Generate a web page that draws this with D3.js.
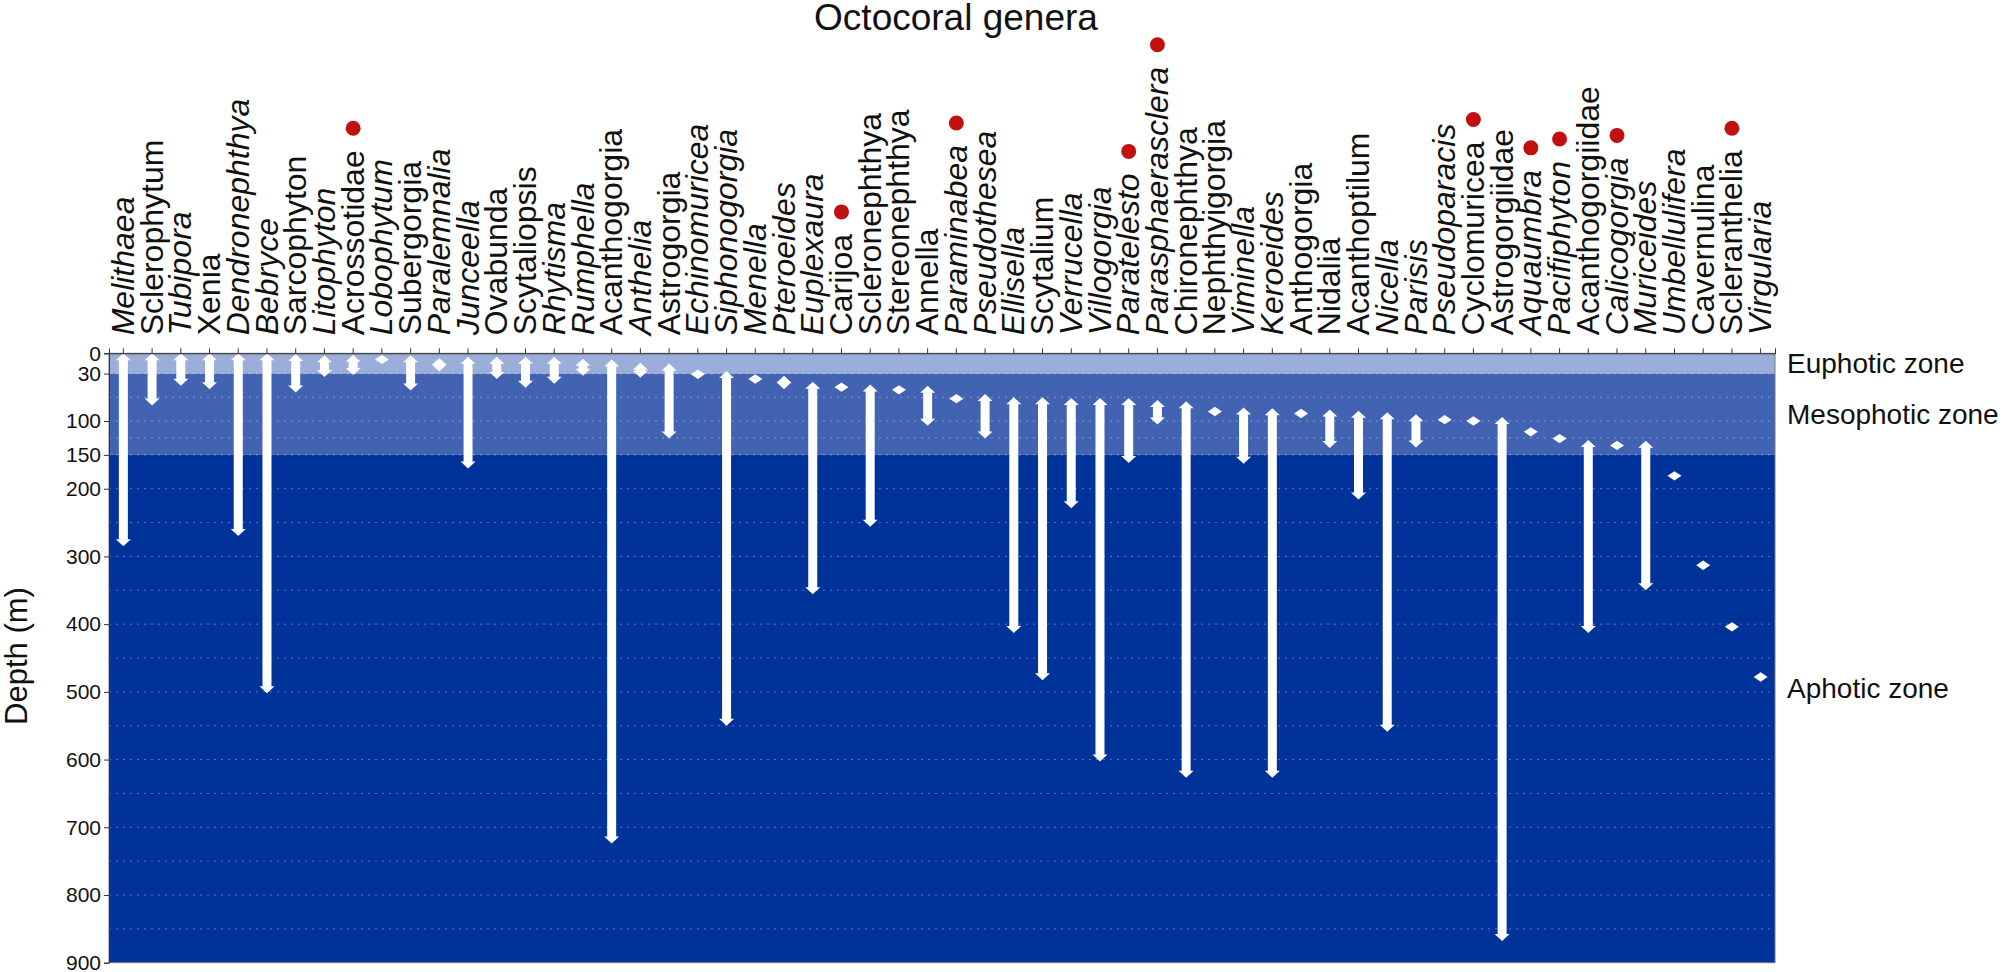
<!DOCTYPE html>
<html>
<head>
<meta charset="utf-8">
<script src="https://cdn.jsdelivr.net/npm/d3@7"></script>
<style>
  body { margin: 0; background: #ffffff; }
  text { font-family: "Liberation Sans", Arial, Helvetica, sans-serif; }
</style>
</head>
<body>
<svg id="chart"></svg>
<script>
  // Octocoral genera, depth ranges (m)
  const genera = [
    'Melithaea', 'Sclerophytum', 'Tubipora', 'Xenia', 'Dendronephthya', 'Bebryce',
    'Sarcophyton', 'Litophyton', 'Acrossotidae', 'Lobophytum', 'Subergorgia', 'Paralemnalia',
    'Junceella', 'Ovabunda', 'Scytaliopsis', 'Rhytisma', 'Rumphella', 'Acanthogorgia',
    'Anthelia', 'Astrogorgia', 'Echinomuricea', 'Siphonogorgia', 'Menella', 'Pteroeides',
    'Euplexaura', 'Carijoa', 'Scleronephthya', 'Stereonephthya', 'Annella', 'Paraminabea',
    'Pseudothesea', 'Ellisella', 'Scytalium', 'Verrucella', 'Villogorgia', 'Paratelesto',
    'Parasphaerasclera', 'Chironephthya', 'Nephthyigorgia', 'Viminella', 'Keroeides', 'Anthogorgia',
    'Nidalia', 'Acanthoptilum', 'Nicella', 'Parisis', 'Pseudoparacis', 'Cyclomuricea',
    'Astrogorgiidae', 'Aquaumbra', 'Pacifiphyton', 'Acanthogorgiidae', 'Calicogorgia', 'Muriceides',
    'Umbellulifera', 'Cavernulina', 'Scleranthelia', 'Virgularia'
  ];

  const minDepth = [
    0, 0, 0, 0, 0, 0,
    1, 3, 2, 9, 3, 7,
    5, 5, 5, 5, 8, 9,
    14, 15, 31, 26, 38, 33,
    42, 50, 46, 54, 48, 67,
    60, 65, 65, 66, 66, 66,
    69, 71, 86, 80, 81, 89,
    83, 85, 87, 90, 98, 100,
    94, 116, 126, 128, 136, 129,
    181, 313, 404, 478
  ];

  const maxDepth = [
    285, 77, 48, 53, 270, 502,
    58, 35, 32, 9, 55, 27,
    170, 38, 51, 45, 33, 724,
    36, 126, 31, 550, 38, 53,
    356, 50, 256, 54, 107, 67,
    126, 413, 483, 229, 603, 162,
    105, 627, 86, 163, 627, 89,
    140, 216, 559, 139, 98, 100,
    868, 116, 126, 413, 136, 350,
    181, 313, 404, 478
  ];

  // labels drawn upright (not italic)
  const uprightNames = [
    'Sclerophytum', 'Xenia', 'Sarcophyton', 'Acrossotidae', 'Subergorgia', 'Ovabunda',
    'Scytaliopsis', 'Acanthogorgia', 'Astrogorgia', 'Carijoa', 'Scleronephthya', 'Stereonephthya',
    'Annella', 'Scytalium', 'Chironephthya', 'Nephthyigorgia', 'Anthogorgia', 'Nidalia',
    'Acanthoptilum', 'Cyclomuricea', 'Astrogorgiidae', 'Acanthogorgiidae', 'Cavernulina', 'Scleranthelia'
  ];

  // genera flagged with a red dot
  const markedGenera = [
    'Acrossotidae', 'Carijoa', 'Paraminabea', 'Paratelesto', 'Parasphaerasclera',
    'Cyclomuricea', 'Aquaumbra', 'Pacifiphyton', 'Calicogorgia', 'Scleranthelia'
  ];

  const depthTicks = [0, 30, 100, 150, 200, 300, 400, 500, 600, 700, 800, 900];
  const gridDepths = [30, 65, 100, 125, 150, 200, 250, 300, 350, 400, 450, 500, 550, 600, 650, 700, 750, 800, 850];

  const zoneNames = ['Euphotic zone', 'Mesophotic zone', 'Aphotic zone'];
  const zoneTop = [0, 30, 150];
  const zoneBottom = [30, 150, 900];
  const zoneLabelDepth = [15, 90, 495];

  const width = 2007;
  const height = 972;
  const zoneColors = ['#9aaed9', '#4163b2', '#00339a'];

  const svg = d3.select('#chart')
    .attr('width', width)
    .attr('height', height)
    .style('background', '#ffffff');

  const x = d3.scaleBand()
    .domain(genera)
    .range([109, 1775]);

  const y = d3.scaleLinear()
    .domain([0, 900])
    .range([353.3, 962.7]);

  // Depth zones
  svg.append('g').selectAll('rect')
    .data(zoneNames)
    .enter()
    .append('rect')
    .attr('x', x.range()[0])
    .attr('width', x.range()[1] - x.range()[0])
    .attr('y', (d, i) => y(zoneTop[i]))
    .attr('height', (d, i) => y(zoneBottom[i]) - y(zoneTop[i]))
    .attr('fill', (d, i) => zoneColors[i]);

  // Dotted grid
  svg.append('g').selectAll('line')
    .data(gridDepths)
    .enter()
    .append('line')
    .attr('x1', x.range()[0])
    .attr('x2', x.range()[1])
    .attr('y1', d => y(d))
    .attr('y2', d => y(d))
    .attr('stroke', '#ffffff')
    .attr('stroke-opacity', 0.35)
    .attr('stroke-width', 1)
    .attr('stroke-dasharray', '2,5');

  // Double-headed depth arrows
  const headH = 7, headW = 7.5, shaftW = 4.5, diaH = 4.7, diaW = 7;
  const arrows = svg.append('g').attr('fill', '#ffffff');

  genera.forEach((g, i) => {
    const cx = x(g) + x.bandwidth() / 2;
    const y1 = y(minDepth[i]);
    const y2 = y(maxDepth[i]);
    if (maxDepth[i] === minDepth[i]) {
      arrows.append('path')
        .attr('d', `M${cx},${y1 - diaH} L${cx + diaW},${y1} L${cx},${y1 + diaH} L${cx - diaW},${y1} Z`);
      return;
    }
    if (y2 - y1 > 2 * headH) {
      arrows.append('rect')
        .attr('x', cx - shaftW)
        .attr('width', shaftW * 2)
        .attr('y', y1 + headH - 0.5)
        .attr('height', y2 - y1 - 2 * headH + 1);
    }
    arrows.append('path')
      .attr('d', `M${cx},${y1} L${cx + headW},${y1 + headH} L${cx - headW},${y1 + headH} Z`);
    arrows.append('path')
      .attr('d', `M${cx},${y2} L${cx + headW},${y2 - headH} L${cx - headW},${y2 - headH} Z`);
  });

  // Plot frame
  svg.append('rect')
    .attr('x', x.range()[0])
    .attr('y', y.range()[0])
    .attr('width', x.range()[1] - x.range()[0])
    .attr('height', y.range()[1] - y.range()[0])
    .attr('fill', 'none')
    .attr('stroke', '#7a7a7a')
    .attr('stroke-width', 1);

  // Y axis
  const yAxis = svg.append('g')
    .attr('transform', `translate(${x.range()[0]},0)`)
    .call(d3.axisLeft(y).tickValues(depthTicks).tickSize(5).tickPadding(3));
  yAxis.select('.domain').attr('stroke', '#333333');
  yAxis.selectAll('.tick line').attr('stroke', '#333333');
  yAxis.selectAll('text')
    .attr('font-size', 21)
    .attr('fill', '#111111')
    .style('font-family', '"Liberation Sans", Arial, sans-serif');

  svg.append('text')
    .attr('transform', 'translate(27,656) rotate(-90)')
    .attr('text-anchor', 'middle')
    .attr('font-size', 31)
    .attr('fill', '#111111')
    .text('Depth (m)');

  // Top axis with rotated genus labels
  const xAxis = svg.append('g')
    .attr('transform', `translate(0,${y.range()[0]})`)
    .call(d3.axisTop(x).tickSize(5).tickPadding(0));
  xAxis.select('.domain').attr('stroke', '#333333');
  xAxis.selectAll('.tick line').attr('stroke', '#333333');
  xAxis.selectAll('.tick text')
    .attr('transform', 'rotate(-90)')
    .attr('x', 18)
    .attr('y', 0)
    .attr('dy', '0.33em')
    .attr('text-anchor', 'start')
    .attr('font-size', 32)
    .attr('fill', '#111111')
    .style('font-family', '"Liberation Sans", Arial, sans-serif')
    .style('font-style', d => uprightNames.includes(d) ? 'normal' : 'italic');

  // Red dots above flagged genera
  xAxis.selectAll('.tick').each(function(d) {
    if (!markedGenera.includes(d)) return;
    const len = d3.select(this).select('text').node().getComputedTextLength();
    d3.select(this).append('circle')
      .attr('cx', 0)
      .attr('cy', -18 - len - 22)
      .attr('r', 7.5)
      .attr('fill', '#c0100f');
  });

  // Zone labels
  svg.append('g').selectAll('text')
    .data(zoneNames)
    .enter()
    .append('text')
    .attr('x', 1787)
    .attr('y', (d, i) => y(zoneLabelDepth[i]))
    .attr('dy', '0.35em')
    .attr('font-size', 28)
    .attr('fill', '#111111')
    .text(d => d);

  // Title
  svg.append('text')
    .attr('x', 956)
    .attr('y', 30)
    .attr('text-anchor', 'middle')
    .attr('font-size', 37)
    .attr('fill', '#111111')
    .text('Octocoral genera');
</script>
</body>
</html>
